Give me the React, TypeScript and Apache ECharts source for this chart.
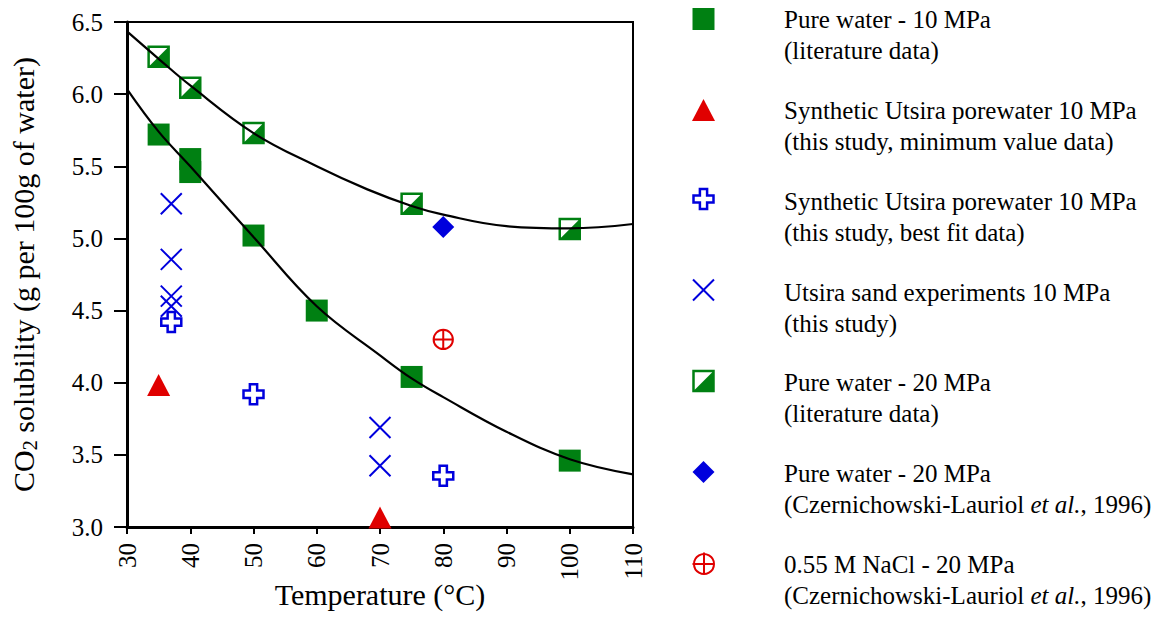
import React, { useEffect, useRef } from "react";
import * as echarts from "echarts";

// ---- data ----
const pure10T = [35, 40, 40, 50, 60, 75, 100];
const pure10Y = [5.72, 5.55, 5.46, 5.02, 4.5, 4.04, 3.46];
const pure20T = [35, 40, 50, 75, 100];
const pure20Y = [6.26, 6.045, 5.73, 5.24, 5.065];
const synthMinT = [35, 70];
const synthMinY = [3.985, 3.065];
const synthFitT = [37, 50, 80];
const synthFitY = [4.42, 3.92, 3.355];
const sandT = [37, 37, 37, 37, 70, 70];
const sandY = [5.24, 4.855, 4.6, 4.53, 3.69, 3.425];
const czPureT = [80];
const czPureY = [5.08];
const czNaclT = [80];
const czNaclY = [4.3];

const fit20T = [30, 35, 40, 50, 60, 68, 75, 80, 90, 100, 110];
const fit20Y = [6.435, 6.245, 6.06, 5.73, 5.5, 5.34, 5.225, 5.165, 5.085, 5.07, 5.1];
const fit10T = [30, 35, 40, 50, 60, 70, 75, 80, 90, 100, 110];
const fit10Y = [6.035, 5.74, 5.5, 5.01, 4.53, 4.19, 4.03, 3.9, 3.66, 3.47, 3.365];

const legendLabels = [
  "Pure water - 10 MPa\n(literature data)",
  "Synthetic Utsira porewater 10 MPa\n(this study, minimum value data)",
  "Synthetic Utsira porewater 10 MPa\n(this study, best fit data)",
  "Utsira sand experiments 10 MPa\n(this study)",
  "Pure water - 20 MPa\n(literature data)",
  "Pure water - 20 MPa\n(Czernichowski-Lauriol {i|et al.}, 1996)",
  "0.55 M NaCl - 20 MPa\n(Czernichowski-Lauriol {i|et al.}, 1996)",
];

const xTicks = { min: 30, max: 110, interval: 10 };
const yTicks = { min: 3, max: 6.5, interval: 0.5 };

const GREEN = "#008012";
const BLUE = "#0000dd";
const RED = "#e00000";
const FONT = "Liberation Serif";

const zip = (a: number[], b: number[]) => a.map((v, i) => [v, b[i]]);

const PLUS_PATH = "path://M7,0H15V7H22V15H15V22H7V15H0V7H7Z";
const X_PATH = "path://M0,0L22,22M22,0L0,22";
const CPLUS_PATH =
  "path://M0,11A11,11,0,1,1,22,11A11,11,0,1,1,0,11ZM11,-1V23M-1,11H23";

function legendGraphics() {
  const mx = 703.5;
  const tx = 784;
  const rows = [19, 110, 201, 292, 382, 473, 564];
  const g: any[] = [];
  const h = 11;
  // markers
  let y = rows[0];
  g.push({ type: "rect", shape: { x: mx - h, y: y - h, width: 22, height: 22 }, style: { fill: GREEN } });
  y = rows[1];
  g.push({ type: "polygon", shape: { points: [[mx - 11.5, y + 11], [mx + 11.5, y + 11], [mx, y - 11]] }, style: { fill: RED } });
  y = rows[2] - 2;
  const a = 3.6, b = 10;
  g.push({
    type: "polygon",
    shape: {
      points: [
        [mx - a, y - b], [mx + a, y - b], [mx + a, y - a], [mx + b, y - a], [mx + b, y + a], [mx + a, y + a],
        [mx + a, y + b], [mx - a, y + b], [mx - a, y + a], [mx - b, y + a], [mx - b, y - a], [mx - a, y - a],
      ],
    },
    style: { fill: "#fff", stroke: BLUE, lineWidth: 2.5 },
  });
  y = rows[3] - 2;
  g.push({ type: "line", shape: { x1: mx - 10.5, y1: y - 10.5, x2: mx + 10.5, y2: y + 10.5 }, style: { stroke: BLUE, lineWidth: 2 } });
  g.push({ type: "line", shape: { x1: mx + 10.5, y1: y - 10.5, x2: mx - 10.5, y2: y + 10.5 }, style: { stroke: BLUE, lineWidth: 2 } });
  y = rows[4] - 1;
  g.push({ type: "rect", shape: { x: mx - 10, y: y - 10, width: 20, height: 20 }, style: { fill: "#fff", stroke: GREEN, lineWidth: 2.5 } });
  g.push({ type: "polygon", shape: { points: [[mx + 10, y - 10], [mx + 10, y + 10], [mx - 10, y + 10]] }, style: { fill: GREEN } });
  y = rows[5] - 1;
  g.push({ type: "polygon", shape: { points: [[mx, y - 11], [mx + 11, y], [mx, y + 11], [mx - 11, y]] }, style: { fill: BLUE } });
  y = rows[6];
  g.push({ type: "circle", shape: { cx: mx + 0.5, cy: y, r: 10 }, style: { fill: "#fff", stroke: RED, lineWidth: 2 } });
  g.push({ type: "line", shape: { x1: mx + 0.5, y1: y - 11.5, x2: mx + 0.5, y2: y + 10 }, style: { stroke: RED, lineWidth: 2 } });
  g.push({ type: "line", shape: { x1: mx - 11, y1: y, x2: mx + 10.5, y2: y }, style: { stroke: RED, lineWidth: 2 } });
  // texts
  legendLabels.forEach((t, i) => {
    g.push({
      type: "text",
      x: tx,
      y: rows[i] - 15.5,
      style: {
        text: t,
        fontSize: 25,
        fontFamily: FONT,
        fill: "#000",
        lineHeight: 31,
        verticalAlign: "top",
        rich: {
          i: { fontStyle: "italic", fontSize: 25, fontFamily: FONT, lineHeight: 31 },
        },
      },
    });
  });
  return g;
}

export default function App() {
  const ref = useRef<HTMLDivElement>(null);
  useEffect(() => {
    if (!ref.current) return;
    const chart = echarts.init(ref.current, null, { renderer: "svg" });
    const axisLabelStyle = { color: "#000", fontSize: 25, fontFamily: FONT };
    chart.setOption({
      animation: false,
      backgroundColor: "#fff",
      grid: {
        left: 127,
        top: 22,
        right: 527,
        bottom: 112,
        show: true,
        borderColor: "#000",
        borderWidth: 2,
      },
      xAxis: {
        type: "value",
        ...xTicks,
        name: "Temperature (°C)",
        nameLocation: "middle",
        nameGap: 52,
        nameMoveOverlap: false,
        nameTextStyle: { color: "#000", fontSize: 30, fontFamily: FONT },
        axisLine: { show: true, onZero: false, lineStyle: { color: "#000", width: 3 } },
        axisTick: { show: true, length: 7, lineStyle: { color: "#000", width: 2 } },
        axisLabel: { ...axisLabelStyle, rotate: 90, margin: 16 },
        splitLine: { show: false },
      },
      yAxis: {
        type: "value",
        ...yTicks,
        name: "{n|CO}{s|2}{n| solubility (g per 100g of water)}",
        nameLocation: "middle",
        nameGap: 87,
        nameMoveOverlap: false,
        nameTextStyle: {
          color: "#000",
          fontSize: 30,
          fontFamily: FONT,
          rich: {
            n: { fontSize: 30, fontFamily: FONT, color: "#000", lineHeight: 34 },
            s: { fontSize: 20, fontFamily: FONT, color: "#000", lineHeight: 34, padding: [14, 0, 0, 0] },
          },
        },
        axisLine: { show: true, onZero: false, lineStyle: { color: "#000", width: 3 } },
        axisTick: { show: true, length: 13, lineStyle: { color: "#000", width: 2 } },
        axisLabel: { ...axisLabelStyle, margin: 24, formatter: (v: number) => v.toFixed(1) },
        splitLine: { show: false },
      },
      graphic: legendGraphics(),
      series: [
        {
          name: "Pure water - 10 MPa",
          type: "scatter",
          symbol: "rect",
          symbolSize: 22,
          itemStyle: { color: GREEN, opacity: 1 },
          data: zip(pure10T, pure10Y),
          z: 2,
        },
        {
          name: "Pure water - 20 MPa (literature)",
          type: "custom",
          coordinateSystem: "cartesian2d",
          encode: { x: 0, y: 1 },
          data: zip(pure20T, pure20Y),
          z: 2,
          renderItem: (params: any, api: any) => {
            const p = api.coord([api.value(0), api.value(1)]);
            const h = 10;
            return {
              type: "group",
              children: [
                {
                  type: "rect",
                  shape: { x: p[0] - h, y: p[1] - h, width: 2 * h, height: 2 * h },
                  style: { fill: "#fff", stroke: GREEN, lineWidth: 2.5 },
                },
                {
                  type: "polygon",
                  shape: { points: [[p[0] + h, p[1] - h], [p[0] + h, p[1] + h], [p[0] - h, p[1] + h]] },
                  style: { fill: GREEN },
                },
              ],
            };
          },
        },
        {
          name: "Synthetic min",
          type: "scatter",
          symbol: "triangle",
          symbolSize: [23, 22],
          itemStyle: { color: RED, opacity: 1 },
          data: zip(synthMinT, synthMinY),
          z: 2,
        },
        {
          name: "Synthetic best fit",
          type: "scatter",
          symbol: PLUS_PATH,
          symbolSize: 20,
          itemStyle: { color: "#fff", borderColor: BLUE, borderWidth: 2.5, opacity: 1 },
          data: zip(synthFitT, synthFitY),
          z: 3,
        },
        {
          name: "Utsira sand",
          type: "scatter",
          symbol: X_PATH,
          symbolSize: 21,
          itemStyle: { color: "transparent", borderColor: BLUE, borderWidth: 2, opacity: 1 },
          data: zip(sandT, sandY),
          z: 3,
        },
        {
          name: "Czernichowski pure",
          type: "scatter",
          symbol: "diamond",
          symbolSize: 22,
          itemStyle: { color: BLUE, opacity: 1 },
          data: zip(czPureT, czPureY),
          z: 2,
        },
        {
          name: "Czernichowski NaCl",
          type: "scatter",
          symbol: CPLUS_PATH,
          symbolSize: 21,
          itemStyle: { color: "#fff", borderColor: RED, borderWidth: 2, opacity: 1 },
          data: zip(czNaclT, czNaclY),
          z: 2,
        },
        {
          name: "fit 20 MPa",
          type: "line",
          smooth: 0.4,
          symbol: "none",
          lineStyle: { color: "#000", width: 2.2 },
          data: zip(fit20T, fit20Y),
          z: 10,
        },
        {
          name: "fit 10 MPa",
          type: "line",
          smooth: 0.4,
          symbol: "none",
          lineStyle: { color: "#000", width: 2.2 },
          data: zip(fit10T, fit10Y),
          z: 10,
        },
      ],
    });
    return () => chart.dispose();
  }, []);
  return (
    <div
      ref={ref}
      style={{ position: "fixed", left: 0, top: 0, width: 1160, height: 639, background: "#fff" }}
    />
  );
}
